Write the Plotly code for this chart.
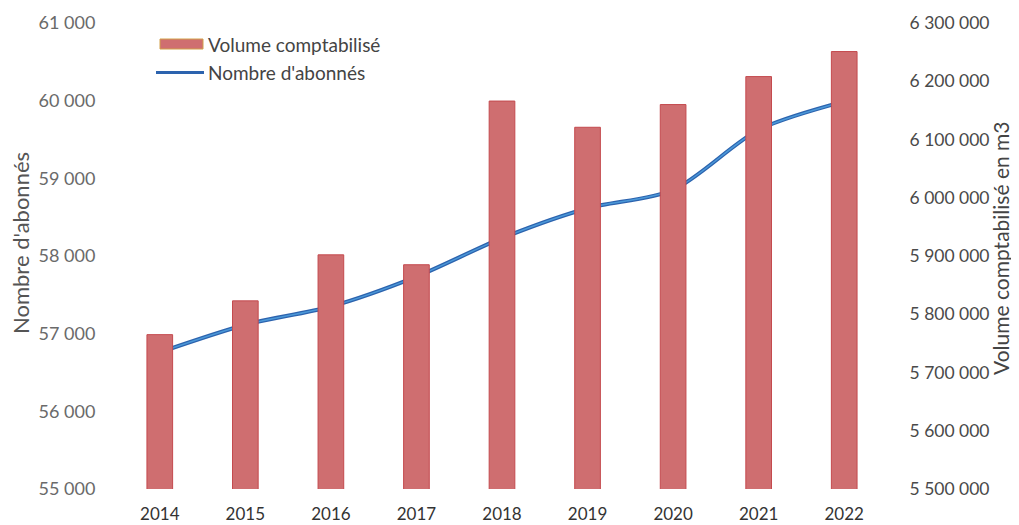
import plotly.graph_objects as go

years = ["2014", "2015", "2016", "2017", "2018", "2019", "2020", "2021", "2022"]
volume = [5765000, 5823000, 5902000, 5885000, 6166000, 6121000, 6160000, 6208000, 6251000]
abonnes = [56760, 57115, 57350, 57735, 58230, 58615, 58850, 59625, 59990]

left_ticks = [55000, 56000, 57000, 58000, 59000, 60000, 61000]
right_ticks = [5500000, 5600000, 5700000, 5800000, 5900000, 6000000, 6100000, 6200000, 6300000]

name_bar = "Volume comptabilisé"
name_line = "Nombre d'abonnés"
title_left = "Nombre d'abonnés"
title_right = "Volume comptabilisé en m3"

font = "Lato, 'Open Sans', sans-serif"

# the page body has an 8px margin, so the figure is laid out 8px left/up
OFF = 8
W, H = 1019 - OFF, 525 - OFF
L, T = 117 - OFF, 23 - OFF
PW, PH = 770, 466
R = W - L - PW
B = H - T - PH


def px(xp):
    return (xp - OFF - L) / PW


def py(yp):
    return 1 - (yp - OFF - T) / PH


fig = go.Figure()
fig.add_trace(go.Bar(
    x=years, y=volume, name=name_bar, yaxis="y2", showlegend=False,
    marker=dict(color="#CF6E70", line=dict(color="#C44A4E", width=1)),
))
fig.add_trace(go.Scatter(
    x=years, y=abonnes, name=name_line, yaxis="y", showlegend=False,
    mode="lines", line=dict(color="#2C63AE", width=4, shape="spline", smoothing=0.8),
))
fig.add_trace(go.Scatter(
    x=years, y=abonnes, name=name_line, yaxis="y", showlegend=False, hoverinfo="skip",
    mode="lines", line=dict(color="#4B98D8", width=1.5, shape="spline", smoothing=0.8),
))

# manual legend (swatches + labels)
fig.add_shape(type="rect", xref="paper", yref="paper",
              x0=px(160), x1=px(203), y0=py(49), y1=py(39),
              fillcolor="#CF6E70", line=dict(color="#D2A04A", width=1))
fig.add_shape(type="line", xref="paper", yref="paper",
              x0=px(156), x1=px(204), y0=py(72.5), y1=py(72.5),
              line=dict(color="#2C63AE", width=3))
fig.add_annotation(xref="paper", yref="paper", x=px(206), y=py(44), text=name_bar,
                   showarrow=False, xanchor="left", yanchor="middle",
                   font=dict(family=font, size=19, color="#444444"))
fig.add_annotation(xref="paper", yref="paper", x=px(206), y=py(73), text=name_line,
                   showarrow=False, xanchor="left", yanchor="middle",
                   font=dict(family=font, size=19, color="#444444"))

# axis titles
fig.add_annotation(xref="paper", yref="paper", x=px(20), y=py(243), text=title_left,
                   showarrow=False, textangle=-90, xanchor="center", yanchor="middle",
                   font=dict(family=font, size=22, color="#555555"))
fig.add_annotation(xref="paper", yref="paper", x=px(1000), y=py(248), text=title_right,
                   showarrow=False, textangle=-90, xanchor="center", yanchor="middle",
                   font=dict(family=font, size=21, color="#444444"))

fig.update_layout(
    width=W, height=H,
    margin=dict(l=L, r=R, t=T, b=B, autoexpand=False),
    paper_bgcolor="white", plot_bgcolor="white",
    separators=", ",
    bargap=0.70,
    font=dict(family=font, size=17, color="#555555"),
    showlegend=False,
    xaxis=dict(type="category", showgrid=False, showline=False,
               ticks="outside", ticklen=10, tickcolor="rgba(0,0,0,0)",
               tickfont=dict(size=17, color="#333333")),
    yaxis=dict(range=[55000, 61000], tickvals=left_ticks, tickformat=",d",
               showgrid=False, zeroline=False, showline=False,
               ticks="outside", ticklen=17, tickcolor="rgba(0,0,0,0)",
               tickfont=dict(size=18, color="#6A6A6A")),
    yaxis2=dict(range=[5500000, 6300000], tickvals=right_ticks, tickformat=",d",
                overlaying="y", side="right", showgrid=False, zeroline=False, showline=False,
                ticks="outside", ticklen=18, tickcolor="rgba(0,0,0,0)",
                tickfont=dict(size=17.5, color="#4A4A4A")),
)

fig.write_html("out.html")
